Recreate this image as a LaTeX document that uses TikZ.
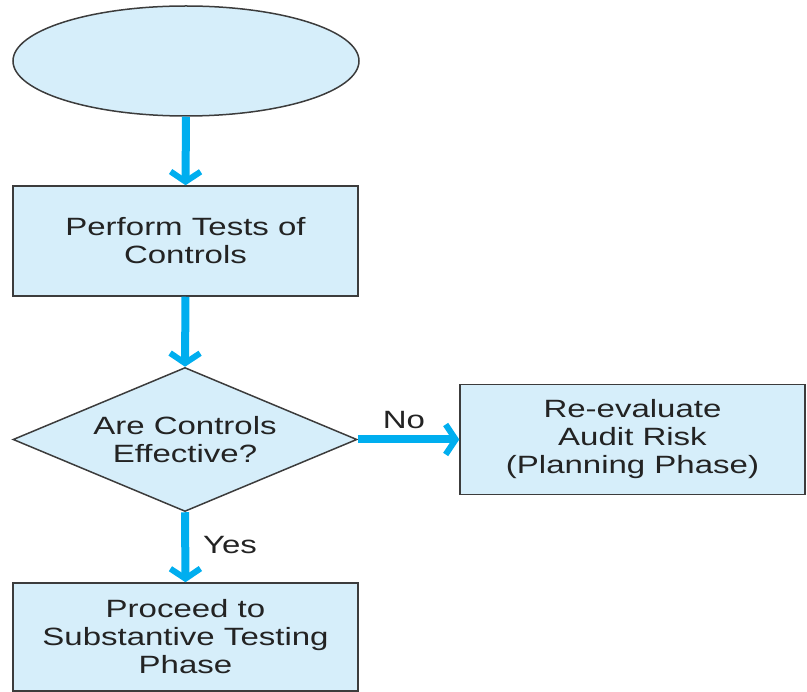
\documentclass[tikz,border=0pt]{standalone}
\usepackage{fontspec}
\setmainfont[FakeStretch=1.32]{Liberation Sans}
\usetikzlibrary{shapes.geometric,arrows.meta}
\definecolor{boxfill}{RGB}{214,238,250}
\definecolor{flowblue}{RGB}{0,174,239}
\definecolor{edge}{RGB}{60,60,60}
\definecolor{txt}{RGB}{35,35,35}
\tikzset{
  base/.style={draw=edge, line width=1.5pt, fill=boxfill, align=center, inner sep=0pt,
    font=\fontsize{25}{28}\selectfont, text=txt},
  procbox/.style={base, rectangle, minimum width=345pt, minimum height=110pt},
  decision/.style={base, diamond, aspect=2.39, minimum width=344pt, minimum height=144pt},
  startoval/.style={base, ellipse, minimum width=346pt, minimum height=110pt},
  flow/.style={draw=flowblue, line width=8pt,
    -{Straight Barb[length=10pt,width=30pt,line width=6pt]}},
  lbl/.style={font=\fontsize{25}{28}\selectfont, text=txt, inner sep=0pt}
}
\begin{document}
\begin{tikzpicture}[x=1pt,y=-1pt]
\useasboundingbox (0,0) rectangle (807,692);
\node[startoval] (start) at (186,61) {};
\node[procbox] (perform) at (185.5,241) {Perform Tests of\\Controls};
\node[decision] (dec) at (185,439.5) {Are Controls\\Effective?};
\node[procbox] (reeval) at (632.5,439.5) {Re-evaluate\\Audit Risk\\(Planning Phase)};
\node[procbox, minimum height=108pt] (proceed) at (185.5,637) {Proceed to\\Substantive Testing\\Phase};
\draw[flow] (start.south) -- (perform.north);
\draw[flow] (perform.south) -- (dec.north);
\draw[flow] (dec.east) -- (reeval.west);
\draw[flow] (dec.south) -- (proceed.north);
\node[lbl] (no) at (404,420) {No};
\node[lbl] (yes) at (230,545) {Yes};
\end{tikzpicture}
\end{document}
